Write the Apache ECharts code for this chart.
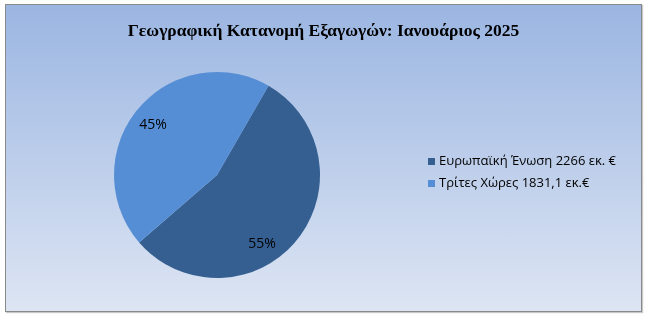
<!DOCTYPE html>
<html>
<head>
<meta charset="utf-8">
<script src="https://cdn.jsdelivr.net/npm/echarts@6/dist/echarts.min.js"></script>
<style>
html,body{margin:0;padding:0;background:#fff;}
#frame{position:absolute;left:5px;top:4px;width:635px;height:306px;border:1px solid #8a8a8a;box-shadow:1px 1px 1px #c8c8c8;background:linear-gradient(to bottom,#9bb6e2 0%,#dde5f3 100%);}
#chart{position:absolute;left:0;top:0;width:635px;height:306px;}
</style>
</head>
<body>
<div id="frame"><div id="chart"></div></div>
<script>
const titleText = "Γεωγραφική Κατανομή Εξαγωγών: Ιανουάριος 2025";
const categories = ["Ευρωπαϊκή Ένωση 2266 εκ. €", "Τρίτες Χώρες 1831,1 εκ.€"];
const values = [2266, 1831.1];
const colors = ["#355f91", "#558ed5"];

const chart = echarts.init(document.getElementById('chart'));
const pieData = categories.map((c, i) => ({ name: c, value: values[i], itemStyle: { color: colors[i] } }));
const labelData = categories.map((c, i) => ({ name: c, value: values[i] }));
labelData[0].label = { offset: [-19, 16] };
labelData[1].label = { offset: [0, 3] };

chart.setOption({
  backgroundColor: 'transparent',
  animation: false,
  title: {
    text: titleText,
    left: 'center',
    top: 12,
    textStyle: { fontFamily: '"Liberation Serif", serif', fontWeight: 'bold', fontSize: 17.5, color: '#000' }
  },
  legend: {
    orient: 'vertical',
    left: 417,
    top: 145,
    itemWidth: 7,
    itemHeight: 7,
    itemGap: 9,
    icon: 'rect',
    textStyle: { fontFamily: '"Open Sans", sans-serif', fontSize: 13, color: '#000', padding: [0, 0, 0, -1] },
    data: categories
  },
  series: [
    {
      type: 'pie',
      center: [211, 170],
      radius: [0, 103],
      startAngle: 60,
      clockwise: true,
      label: { show: false },
      labelLine: { show: false },
      silent: true,
      data: pieData
    },
    {
      type: 'pie',
      center: [211, 170],
      radius: [57, 103],
      startAngle: 60,
      clockwise: true,
      silent: true,
      itemStyle: { color: 'transparent' },
      label: {
        show: true,
        position: 'inside',
        formatter: p => Math.round(p.percent) + '%',
        fontFamily: '"Open Sans", sans-serif',
        fontSize: 14,
        color: '#000'
      },
      labelLine: { show: false },
      data: labelData,
      legendHoverLink: false
    }
  ]
});
</script>
</body>
</html>
